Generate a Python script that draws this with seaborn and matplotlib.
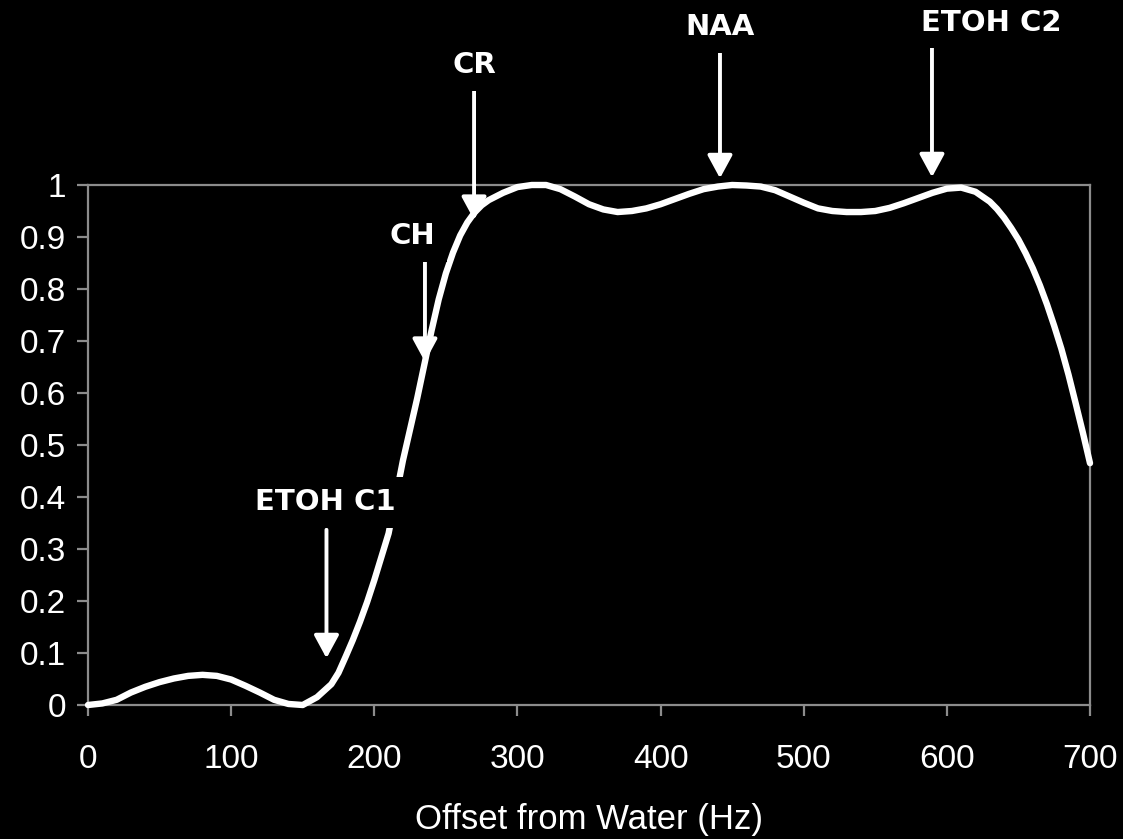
import matplotlib
matplotlib.use("Agg")
import matplotlib.pyplot as plt
import seaborn as sns
import pandas as pd

# ---- data ----
offset_hz = [0, 10, 20, 30, 40, 50, 60, 70, 80, 90, 100, 110, 120, 130, 140, 150,
             160, 170, 175, 180, 185, 190, 195, 200, 205, 210, 215, 220, 225, 230,
             235, 240, 245, 250, 255, 260, 265, 270, 275, 280, 290,
             300, 310, 320, 330, 340, 350, 360, 370, 380, 390, 400, 410, 420, 430,
             440, 450, 460, 470, 480, 490, 500, 510, 520, 530, 540, 550, 560, 570,
             580, 590, 600, 610, 620, 630, 635, 640, 645, 650, 655, 660, 665, 670,
             675, 680, 685, 690, 695, 700]
response = [0.000, 0.003, 0.010, 0.024, 0.035, 0.044, 0.051, 0.056, 0.058, 0.056,
            0.049, 0.037, 0.024, 0.010, 0.002, 0.000,
            0.015, 0.040, 0.062, 0.093, 0.125, 0.160, 0.198, 0.240, 0.285, 0.330,
            0.400, 0.470, 0.530, 0.590, 0.655, 0.720, 0.780, 0.830, 0.870, 0.903,
            0.928, 0.947, 0.961, 0.971, 0.985,
            0.996, 1.000, 1.000, 0.992, 0.978, 0.963, 0.953, 0.948, 0.950, 0.955,
            0.963, 0.973, 0.983, 0.992, 0.997, 1.000, 0.999, 0.997, 0.990, 0.978,
            0.966, 0.955, 0.950, 0.948, 0.948, 0.950, 0.956, 0.965, 0.975, 0.985,
            0.993, 0.995, 0.987, 0.968, 0.954, 0.937, 0.917, 0.895, 0.869, 0.840,
            0.807, 0.770, 0.729, 0.685, 0.635, 0.580, 0.524, 0.465]

peak_names = ["ETOH C1", "CH", "CR", "NAA", "ETOH C2"]
peak_hz = [166.6, 235.4, 269.7, 441.5, 589.6]

x_ticks = [0, 100, 200, 300, 400, 500, 600, 700]
y_ticks = [0, 0.1, 0.2, 0.3, 0.4, 0.5, 0.6, 0.7, 0.8, 0.9, 1]
y_tick_labels = ["0", "0.1", "0.2", "0.3", "0.4", "0.5", "0.6", "0.7", "0.8", "0.9", "1"]
x_label = "Offset from Water (Hz)"

# ---- layout (arrow start/end heights and label positions, in data units) ----
arrow_top = [0.337, 0.857, 1.183, 1.269, 1.269]
arrow_tip = [0.090, 0.660, 0.933, 1.013, 1.015]
label_xy = [(165.6, 0.390), (226.4, 0.902), (269.7, 1.231), (441.5, 1.304), (630.8, 1.312)]

sns.set_theme(style="dark", rc={
    "figure.facecolor": "black",
    "axes.facecolor": "black",
    "axes.edgecolor": "#8c8c8c",
    "axes.linewidth": 1.6,
    "xtick.color": "#8c8c8c",
    "ytick.color": "#8c8c8c",
    "xtick.bottom": True,
    "ytick.left": True,
    "text.color": "white",
    "axes.labelcolor": "white",
})
plt.rcParams["font.family"] = ["Liberation Sans", "DejaVu Sans"]

fig = plt.figure(figsize=(11.23, 8.39), dpi=100)
ax = fig.add_axes([88 / 1123, 1 - 705 / 839, (1090 - 88) / 1123, (705 - 185) / 839])

df = pd.DataFrame({"offset": offset_hz, "response": response})
sns.lineplot(data=df, x="offset", y="response", ax=ax, color="white",
             linewidth=4.6, zorder=3, clip_on=False)

ax.set_xlim(0, 700)
ax.set_ylim(0, 1)
ax.set_xticks(x_ticks)
ax.set_xticklabels([str(v) for v in x_ticks])
ax.set_yticks(y_ticks)
ax.set_yticklabels(y_tick_labels)
ax.tick_params(axis="both", which="major", length=8, width=1.6, direction="out",
               labelsize=24, labelcolor="white")
ax.tick_params(axis="x", pad=20)
ax.tick_params(axis="y", pad=8)
ax.set_xlabel(x_label, fontsize=25, color="white", labelpad=20)
ax.set_ylabel("")
ax.grid(False)
for sp in ax.spines.values():
    sp.set_visible(True)
    sp.set_color("#8c8c8c")
    sp.set_linewidth(1.6)

for name, hz, top, tip, (tx, ty) in zip(peak_names, peak_hz, arrow_top, arrow_tip, label_xy):
    ax.annotate("", xy=(hz, tip), xytext=(hz, top), xycoords="data",
                arrowprops=dict(arrowstyle="-|>,head_length=0.7,head_width=0.38",
                                mutation_scale=20, lw=2.8, color="white",
                                shrinkA=0, shrinkB=0),
                annotation_clip=False, zorder=5)
    ax.text(tx, ty, name, ha="center", va="center", fontsize=21,
            fontweight="bold", family="DejaVu Sans", color="white", zorder=6,
            clip_on=False,
            bbox=dict(boxstyle="square,pad=0.4", fc="black", ec="none"))

fig.savefig("out.png", dpi=100, facecolor="black")
